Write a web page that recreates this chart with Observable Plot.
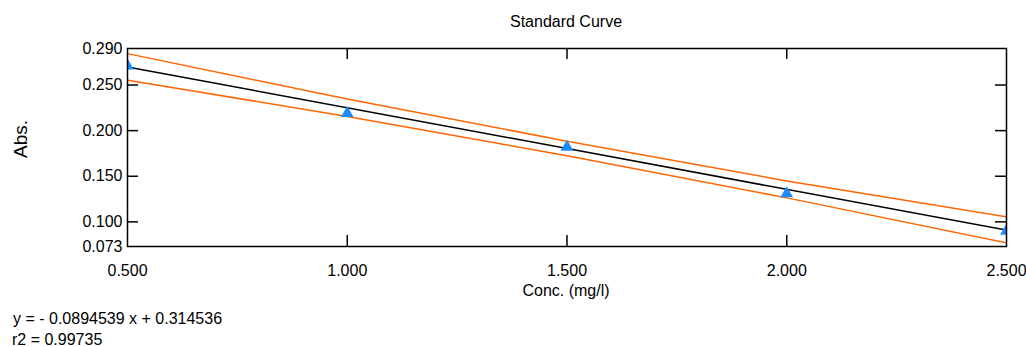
<!DOCTYPE html>
<html><head><meta charset="utf-8">
<script src="https://cdn.jsdelivr.net/npm/d3@7"></script>
<script src="https://cdn.jsdelivr.net/npm/@observablehq/plot@0.6"></script>
<style>
body{margin:0;background:#fff;font-family:"Liberation Sans",Arial,sans-serif;}
#wrap{position:relative;width:1026px;height:347px;overflow:hidden;background:#fff;}
#chart{position:absolute;left:0;top:0;}
.t{position:absolute;font-size:16px;color:#000;white-space:nowrap;line-height:1;}
</style></head><body>
<div id="wrap">
<div id="chart"></div>
<div class="t" id="title" style="left:466px;width:200px;text-align:center;top:14px">Standard Curve</div>
<div class="t" id="ylab" style="left:20px;top:139px;font-size:19px;transform:translate(-50%,-50%) rotate(-90deg)">Abs.</div>
<div class="t" id="xlab" style="left:466px;width:200px;text-align:center;top:282.5px">Conc. (mg/l)</div>
<div class="t" id="eq1" style="left:13px;top:310.5px">y = - 0.0894539 x + 0.314536</div>
<div class="t" id="eq2" style="left:12px;top:332px">r2 = 0.99735</div>
</div>
<script>
// Data
const conc = [0.5, 1.0, 1.5, 2.0, 2.5];
const absorbance = [0.271, 0.219, 0.182, 0.131, 0.090];
const fitConc = [0.5, 2.5];
const fitAbs = [0.26981, 0.09090];
const bandUpper = [0.2844, 0.2346, 0.1884, 0.1449, 0.1054];
const bandLower = [0.2552, 0.2156, 0.1724, 0.1263, 0.0770];
const xTicks = [0.5, 1.0, 1.5, 2.0, 2.5];
const yTicks = [0.290, 0.250, 0.200, 0.150, 0.100, 0.073];
const innerXTicks = [1.0, 1.5, 2.0];
const innerYTicks = [0.250, 0.200, 0.150, 0.100];

const points = conc.map((x, i) => ({x, y: absorbance[i]}));
const upper = conc.map((x, i) => ({x, y: bandUpper[i]}));
const lower = conc.map((x, i) => ({x, y: bandLower[i]}));
const fit = fitConc.map((x, i) => ({x, y: fitAbs[i]}));

const W = 1026, H = 300, ML = 127, MR = 20, MT = 48, MB = 54;
const frameW = W - ML - MR, frameH = H - MT - MB, TL = 11;
const fmt = d3.format(".3f");

const chart = Plot.plot({
  width: W, height: H,
  marginLeft: ML, marginRight: MR, marginTop: MT, marginBottom: MB,
  x: {domain: [0.5, 2.5]},
  y: {domain: [0.073, 0.290]},
  style: {fontSize: "16px", fontFamily: "'Liberation Sans', Arial, sans-serif", color: "#000", background: "transparent", overflow: "visible"},
  marks: [
    Plot.axisX({ticks: xTicks, tickSize: 0, tickPadding: 18, tickFormat: fmt, label: null}),
    Plot.axisY({ticks: yTicks, tickSize: 0, tickPadding: 5, tickFormat: fmt, label: null}),
    Plot.tickY(innerYTicks, {y: d => d, insetRight: frameW - TL, stroke: "#000", strokeWidth: 1.5}),
    Plot.tickY(innerYTicks, {y: d => d, insetLeft: frameW - TL, stroke: "#000", strokeWidth: 1.5}),
    Plot.tickX(innerXTicks, {x: d => d, insetTop: frameH - TL, stroke: "#000", strokeWidth: 1.5}),
    Plot.tickX(innerXTicks, {x: d => d, insetBottom: frameH - TL, stroke: "#000", strokeWidth: 1.5}),
    Plot.line(upper, {x: "x", y: "y", curve: "natural", stroke: "#ff6600", strokeWidth: 1.5, clip: true}),
    Plot.line(lower, {x: "x", y: "y", curve: "natural", stroke: "#ff6600", strokeWidth: 1.5, clip: true}),
    Plot.line(fit, {x: "x", y: "y", stroke: "#000", strokeWidth: 1.5, clip: true}),
    Plot.dot(points, {x: "x", y: "y", symbol: "triangle", r: 4.7, fill: "#1a8cff", stroke: "none", clip: true}),
    Plot.frame({stroke: "#000", strokeWidth: 1.5})
  ]
});
document.getElementById("chart").appendChild(chart);
</script>
</body></html>
